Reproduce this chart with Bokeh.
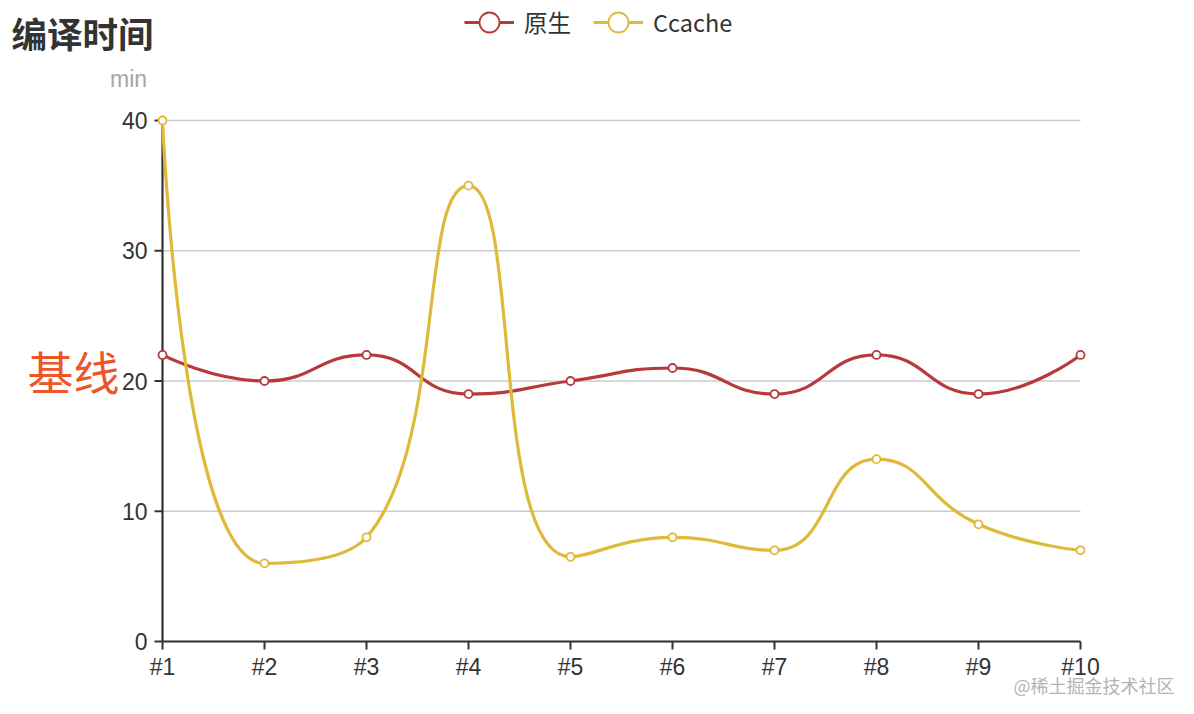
import math
from bokeh.plotting import figure
from bokeh.models import Range1d, Label, Legend, LegendItem, ColumnDataSource
from bokeh.core.properties import value
from bokeh.embed import file_html
from bokeh.resources import INLINE

# ---- data ----
categories = ["#1", "#2", "#3", "#4", "#5", "#6", "#7", "#8", "#9", "#10"]
native_min = [22, 20, 22, 19, 20, 21, 19, 22, 19, 22]
ccache_min = [40, 6, 8, 35, 6.5, 8, 7, 14, 9, 7]
y_ticks = [0, 10, 20, 30, 40]
y_tick_labels = ["0", "10", "20", "30", "40"]
series_names = ["原生", "Ccache"]
title_text = "编译时间"
y_unit = "min"
baseline_text = "基线"
watermark = "@稀土掘金技术社区"

# ---- layout (pixels of the plotting grid inside the 1194x714 canvas) ----
W, H = 1194, 714
L, R, T, B = 162, 114, 120, 73
FW, FH = W - L - R, H - T - B
RED = "#b8393b"
YEL = "#e0b83a"
AXC = "#333333"
LATIN = "Liberation Sans"
CJK = "Noto Sans CJK SC"
TICK = 8

xs = list(range(len(categories)))
x_min, x_max = xs[0], xs[-1]
y_min, y_max = y_ticks[0], y_ticks[-1]
kx = FW / (x_max - x_min)   # px per x unit
ky = FH / (y_max - y_min)   # px per y unit


def px_to_data(px, py):
    """canvas pixel (from top-left) -> data coordinates, for placing free texts"""
    return x_min + (px - L) / kx, y_min + (H - B - py) / ky


def smooth_segments(ys, smooth=0.5):
    """ECharts-style smooth line: cubic bezier segments (computed in pixel space)."""
    pts = [(i * kx, v * ky) for i, v in enumerate(ys)]
    n = len(pts)
    out = {k: [] for k in ("x0", "y0", "x1", "y1", "cx0", "cy0", "cx1", "cy1")}
    cpx0, cpy0 = pts[0]
    for i in range(1, n):
        px, py = pts[i - 1]
        x, y = pts[i]
        if i == n - 1:
            cpx1, cpy1 = x, y
            ncx, ncy = x, y
        else:
            nx, ny = pts[i + 1]
            vx, vy = nx - px, ny - py
            lp = math.hypot(x - px, y - py)
            ln = math.hypot(nx - x, ny - y)
            r = ln / (ln + lp)
            ncx = x + vx * smooth * r
            ncy = y + vy * smooth * r
            ncx = max(min(ncx, max(nx, x)), min(nx, x))
            ncy = max(min(ncy, max(ny, y)), min(ny, y))
            vx, vy = ncx - x, ncy - y
            cpx1 = x - vx * lp / ln
            cpy1 = y - vy * lp / ln
            cpx1 = max(min(cpx1, max(px, x)), min(px, x))
            cpy1 = max(min(cpy1, max(py, y)), min(py, y))
            vx, vy = x - cpx1, y - cpy1
            ncx = x + vx * ln / lp
            ncy = y + vy * ln / lp
        out["x0"].append(px / kx); out["y0"].append(py / ky)
        out["x1"].append(x / kx); out["y1"].append(y / ky)
        out["cx0"].append(cpx0 / kx); out["cy0"].append(cpy0 / ky)
        out["cx1"].append(cpx1 / kx); out["cy1"].append(cpy1 / ky)
        cpx0, cpy0 = ncx, ncy
    return out


# the frame covers the whole canvas so that nothing is clipped
x0r, y0r = px_to_data(0, H)
x1r, y1r = px_to_data(W, 0)
p = figure(width=W, height=H, output_backend="svg", toolbar_location=None, title=None,
           x_range=Range1d(x0r, x1r), y_range=Range1d(y0r, y1r),
           x_axis_type=None, y_axis_type=None, min_border=0)
p.outline_line_color = None
p.background_fill_color = "white"
p.border_fill_color = "white"
p.xgrid.visible = False
p.ygrid.visible = False

# grid lines (value axis)
p.segment(x0=[x_min] * len(y_ticks), x1=[x_max] * len(y_ticks), y0=y_ticks, y1=y_ticks,
          line_color="#cccccc", line_width=1.5, level="underlay")

# axis lines
p.segment(x0=[x_min, x_min], y0=[y_min, y_min], x1=[x_max, x_min], y1=[y_min, y_max],
          line_color=AXC, line_width=2.2)
# ticks
p.segment(x0=xs, x1=xs, y0=[y_min] * len(xs), y1=[y_min - TICK / ky] * len(xs),
          line_color=AXC, line_width=2)
p.segment(x0=[x_min] * len(y_ticks), x1=[x_min - TICK / kx] * len(y_ticks), y0=y_ticks, y1=y_ticks,
          line_color=AXC, line_width=2)
# tick labels
p.text(x=xs, y=[y_min - (TICK + 4) / ky] * len(xs), text=categories,
       text_font=value(LATIN), text_font_size="23px", text_color=AXC,
       text_align="center", text_baseline="top")
p.text(x=[x_min - (TICK + 7) / kx] * len(y_ticks), y=y_ticks, text=y_tick_labels,
       text_font=value(LATIN), text_font_size="23px", text_color=AXC,
       text_align="right", text_baseline="middle")

# series
legend_items = []
for name, vals, col in ((series_names[0], native_min, RED), (series_names[1], ccache_min, YEL)):
    seg = ColumnDataSource(smooth_segments(vals))
    curve = p.bezier(x0="x0", y0="y0", x1="x1", y1="y1", cx0="cx0", cy0="cy0", cx1="cx1", cy1="cy1",
                     source=seg, line_color=col, line_width=3.2)
    pts = p.scatter(x=xs, y=vals, marker="circle", size=8, fill_color="white",
                    line_color=col, line_width=1.8)
    legend_items.append(LegendItem(label=name, renderers=[curve, pts]))

legend = Legend(items=legend_items, orientation="horizontal",
                location=(464, H - 50),
                glyph_width=50, glyph_height=56, label_standoff=10, spacing=22,
                padding=0, margin=0, border_line_color=None, background_fill_alpha=0,
                label_text_font=CJK, label_text_font_size="23.5px", label_text_color="#333333")
p.add_layout(legend, "center")


# free texts (placed in data units, converted from canvas pixels)
def add_text(px, py, text, **kw):
    x, y = px_to_data(px, py)
    p.add_layout(Label(x=x, y=y, text=text, **kw))


add_text(11, 6, title_text, text_font=CJK, text_font_size="35.5px", text_font_style="bold",
         text_color="#333333", text_baseline="top", text_align="left")
add_text(128, 78, y_unit, text_font=LATIN, text_font_size="23px", text_color="#a6a6a6",
         text_baseline="middle", text_align="center")
add_text(27, 369, baseline_text, text_font=CJK, text_font_size="46px", text_color="#ee5528",
         text_baseline="middle", text_align="left")
add_text(1174, 684, watermark, text_font=CJK, text_font_size="18px", text_color="#b4b4b4",
         text_baseline="middle", text_align="right")

open("out.html", "w").write(file_html(p, INLINE))
